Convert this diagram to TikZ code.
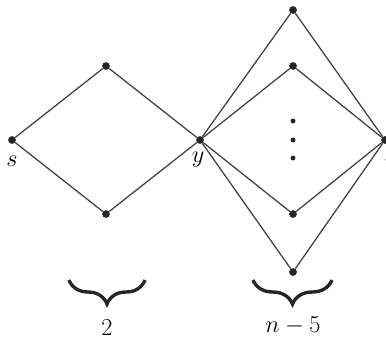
\documentclass[tikz,border=0pt]{standalone}
\usetikzlibrary{decorations.pathreplacing}
\tikzset{
  vtx/.style={circle, fill=black!85, inner sep=0pt, minimum size=5.5pt},
  edge/.style={black!75, line width=0.9pt},
  lbl/.style={font=\LARGE, inner sep=0pt},
  brc/.style={decorate, decoration={brace, mirror, amplitude=0.6cm}, line width=2.4pt, black!85}
}
\begin{document}
\begin{tikzpicture}[x=0.025cm, y=-0.025cm]
  \useasboundingbox (0,0) rectangle (386,344);

  % left diamond
  \node[vtx] (s) at (12,140) {};
  \node[vtx] (a1) at (106,66) {};
  \node[vtx] (a2) at (106,214) {};
  \node[vtx] (y) at (200,140) {};

  % right part
  \node[vtx] (b1) at (293,10) {};
  \node[vtx] (b2) at (293,66) {};
  \node[vtx] (b3) at (293,214) {};
  \node[vtx] (b4) at (293,272) {};
  \node[vtx] (v) at (385,140) {};

  % dots
  \node[circle, fill=black!85, inner sep=0pt, minimum size=3.5pt] (d1) at (293,121) {};
  \node[circle, fill=black!85, inner sep=0pt, minimum size=3.5pt] (d2) at (293,140) {};
  \node[circle, fill=black!85, inner sep=0pt, minimum size=3.5pt] (d3) at (293,158) {};

  % labels
  \node[lbl] (ls) at (12,161) {$s$};
  \node[lbl] (ly) at (198,160) {$y$};
  \node[lbl] (lv) at (391,162) {$v$};

  % edges
  \foreach \a/\b in {s/a1, s/a2, a1/y, a2/y}
    \draw[edge] (\a) -- (\b);
  \foreach \m in {b1, b2, b3, b4} {
    \draw[edge] (y) -- (\m);
    \draw[edge] (\m) -- (v);
  }

  % braces
  \coordinate (p1) at (69,280);
  \coordinate (q1) at (145,280);
  \coordinate (p2) at (253,280);
  \coordinate (q2) at (332,280);
  \draw[brc] (p1) -- (q1);
  \draw[brc] (p2) -- (q2);
  \node[lbl] (n1) at (107,328) {$2$};
  \node[lbl] (n2) at (293,326) {$n-5$};
\end{tikzpicture}
\end{document}
